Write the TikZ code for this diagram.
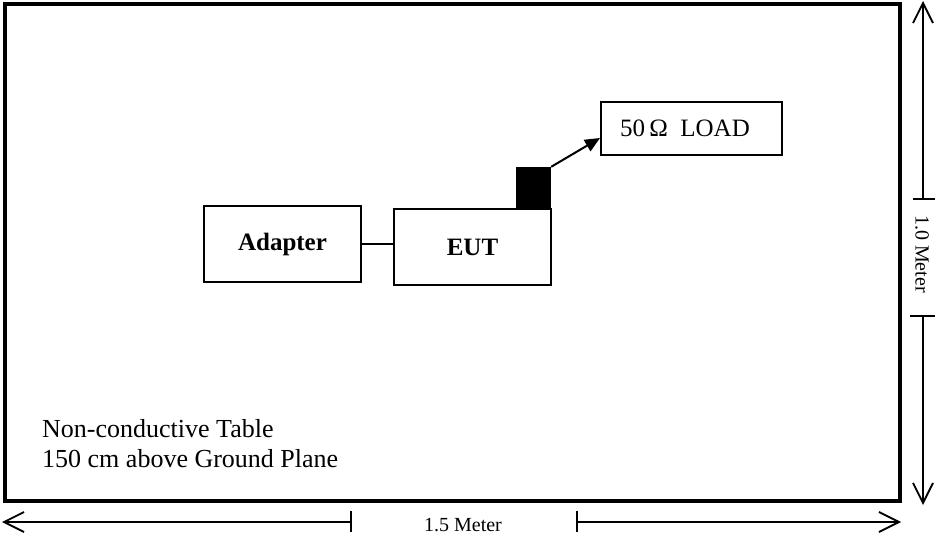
\documentclass[tikz,border=0pt]{standalone}
\usepackage{fontspec}
\setmainfont{Liberation Serif}
\usetikzlibrary{arrows.meta}
\begin{document}
\begin{tikzpicture}[x=1pt,y=-1pt,
  box/.style={draw, line width=2pt, inner sep=0pt, font=\fontsize{25}{29}\selectfont},
  lbl/.style={inner sep=0pt, font=\fontsize{26}{29}\selectfont},
  dimlbl/.style={inner sep=0pt, font=\fontsize{20}{24}\selectfont},
  dimarrow/.style={line width=1.5pt, -{Straight Barb[length=20pt,width=20pt,line width=1.8pt]}},
  tick/.style={line width=1.5pt}]
\useasboundingbox (0,0) rectangle (935,537);
% table
\node[draw, line width=4pt, minimum width=895.5pt, minimum height=496.5pt, inner sep=0pt] (table) at (452.25,252.75) {};
% boxes
\node[box, minimum width=157pt, minimum height=76pt] (adapter) at (282.5,244) {\bfseries Adapter};
\node[box, minimum width=157pt, minimum height=76pt] (eut) at (472.5,247) {\bfseries EUT};
\node[fill=black, inner sep=0pt, minimum width=35pt, minimum height=42pt] (conn) at (533.5,188) {};
\node[box, minimum width=181pt, minimum height=53pt] (load) at (691.5,128.5) {};
\node[lbl, font=\fontsize{25}{29}\selectfont] (loadtxt) at (685,128) {50\,Ω\ \ LOAD};
% connectors
\draw[line width=2pt] (adapter.east) -- (adapter.east -| eut.west);
\draw[line width=2pt, -{Triangle[length=15pt,width=13pt]}] (conn.north east) -- ([yshift=-9.5pt]load.west);
% table text
\node[lbl, anchor=base west] (t1) at (42,438) {Non-conductive Table};
\node[lbl, anchor=base west] (t2) at (42,467) {150 cm above Ground Plane};
% vertical dimension
\coordinate (vt1) at (923,199);
\coordinate (vt2) at (923,316);
\coordinate (vtop) at (923,1);
\coordinate (vbot) at (923,505);
\draw[dimarrow] (vt1) -- (vtop);
\draw[dimarrow] (vt2) -- (vbot);
\draw[tick] ([xshift=-10pt]vt1) -- ([xshift=12pt]vt1);
\draw[tick] ([xshift=-13pt]vt2) -- ([xshift=12pt]vt2);
\node[dimlbl, rotate=-90] (vlbl) at (922,254) {1.0 Meter};
% horizontal dimension
\coordinate (ht1) at (351,522);
\coordinate (ht2) at (577,522);
\coordinate (hl) at (2,522);
\coordinate (hr) at (901,522);
\draw[dimarrow] (ht1) -- (hl);
\draw[dimarrow] (ht2) -- (hr);
\draw[tick] ([yshift=-10pt]ht1) -- ([yshift=11pt]ht1);
\draw[tick] ([yshift=-10pt]ht2) -- ([yshift=11pt]ht2);
\node[dimlbl] (hlbl) at (463,525) {1.5 Meter};
\end{tikzpicture}
\end{document}
